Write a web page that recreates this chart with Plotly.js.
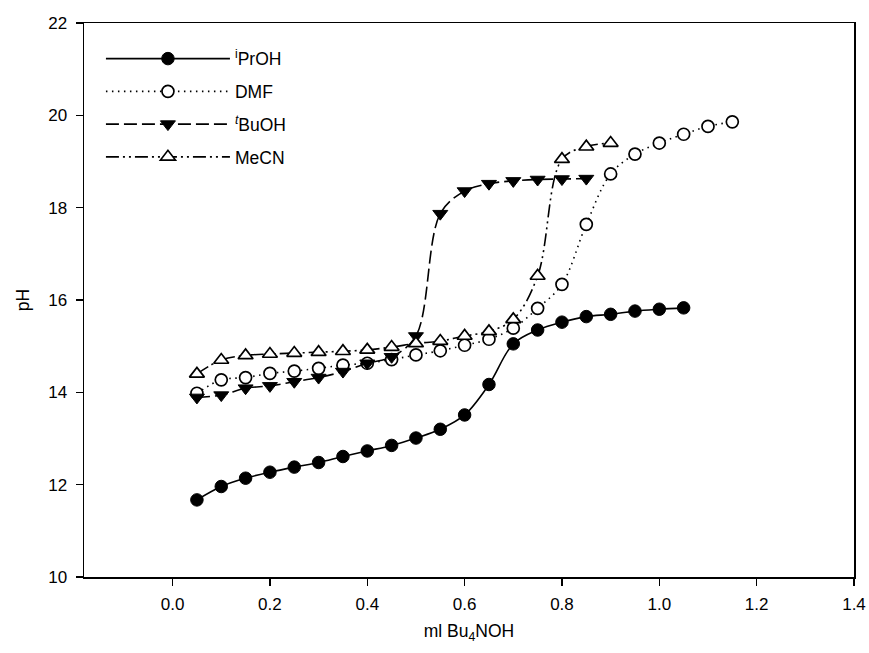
<!DOCTYPE html>
<html>
<head>
<meta charset="utf-8">
<script src="https://cdn.plot.ly/plotly-3.0.1.min.js"></script>
<style>html,body{margin:0;padding:0;background:#fff}#chart{width:869px;height:653px}</style>
</head>
<body>
<div id="chart"></div>
<script>
const xPrOH = [0.05,0.10,0.15,0.20,0.25,0.30,0.35,0.40,0.45,0.50,0.55,0.60,0.65,0.70,0.75,0.80,0.85,0.90,0.95,1.00,1.05];
const yPrOH = [11.67,11.96,12.14,12.27,12.38,12.48,12.61,12.73,12.85,13.01,13.20,13.51,14.17,15.05,15.35,15.52,15.64,15.69,15.76,15.80,15.83];

const xDMF = [0.05,0.10,0.15,0.20,0.25,0.30,0.35,0.40,0.45,0.50,0.55,0.60,0.65,0.70,0.75,0.80,0.85,0.90,0.95,1.00,1.05,1.10,1.15];
const yDMF = [13.98,14.27,14.32,14.41,14.46,14.52,14.59,14.63,14.71,14.81,14.90,15.02,15.15,15.39,15.82,16.34,17.64,18.73,19.16,19.40,19.59,19.76,19.86];

const xBuOH = [0.05,0.10,0.15,0.20,0.25,0.30,0.35,0.40,0.45,0.50,0.55,0.60,0.65,0.70,0.75,0.80,0.85];
const yBuOH = [13.89,13.94,14.09,14.14,14.23,14.32,14.45,14.63,14.77,15.22,17.87,18.36,18.52,18.58,18.61,18.62,18.63];

const xMeCN = [0.05,0.10,0.15,0.20,0.25,0.30,0.35,0.40,0.45,0.50,0.55,0.60,0.65,0.70,0.75,0.80,0.85,0.90];
const yMeCN = [14.40,14.70,14.80,14.83,14.85,14.87,14.89,14.92,14.98,15.06,15.11,15.22,15.32,15.58,16.52,19.05,19.32,19.40];

const names = ['<sup>i</sup>PrOH','DMF','<sup><i>t</i></sup>BuOH','MeCN'];
const xTicks = [0.0,0.2,0.4,0.6,0.8,1.0,1.2,1.4];
const yTicks = [10,12,14,16,18,20,22];

const lw = 1.6;
const traces = [
  {x:xPrOH, y:yPrOH, name:names[0], legendgroup:'a', mode:'lines+markers',
   line:{color:'#000', width:lw, shape:'spline', dash:'solid'},
   marker:{symbol:'circle', size:12.5, color:'#000', line:{color:'#000', width:1}}},
  {x:xDMF, y:yDMF, name:names[1], legendgroup:'b', mode:'lines+markers',
   line:{color:'#000', width:lw, shape:'spline', dash:'1.5px,4.5px'},
   marker:{symbol:'circle', size:12, color:'#fff', line:{color:'#000', width:1.7}}},
  {x:xBuOH, y:yBuOH, name:names[2], legendgroup:'c', mode:'lines+markers',
   line:{color:'#000', width:lw, shape:'spline', dash:'13px,5px'},
   marker:{symbol:'triangle-down', size:13, color:'#000', line:{color:'#000', width:1}}},
  {x:xMeCN, y:yMeCN, name:names[3], legendgroup:'d', mode:'lines+markers',
   line:{color:'#000', width:lw, shape:'spline', dash:'13px,4px,2px,4px,2px,4px'},
   marker:{symbol:'triangle-up', size:13, color:'#fff', line:{color:'#000', width:1.7}}}
];

const font = {family:'"Liberation Sans", Arial, sans-serif', size:17, color:'#000'};
const layout = {
  width:869, height:653,
  margin:{l:83.5, r:14.5, t:22.5, b:76},
  paper_bgcolor:'#fff', plot_bgcolor:'#fff',
  font:font,
  showlegend:true,
  legend:{x:0.022, y:0.968, xanchor:'left', yanchor:'top', bgcolor:'rgba(0,0,0,0)',
          font:{family:font.family, size:17.5, color:'#000'}, itemwidth:124, tracegroupgap:7},
  xaxis:{range:[-0.182,1.4], tickvals:xTicks, ticktext:xTicks.map(v=>v.toFixed(1)),
         ticks:'outside', ticklen:7, tickwidth:1.2, tickcolor:'#000',
         showline:true, linecolor:'#000', linewidth:1.5, mirror:true,
         showgrid:false, zeroline:false, tickfont:{size:17}, ticklabelstandoff:4,
         title:{text:'ml Bu<sub>4</sub>NOH', font:{size:17.5}, standoff:12}},
  yaxis:{range:[10,22], tickvals:yTicks,
         ticks:'outside', ticklen:7, tickwidth:1.2, tickcolor:'#000',
         showline:true, linecolor:'#000', linewidth:1.5, mirror:true,
         showgrid:false, zeroline:false, tickfont:{size:17}, ticklabelstandoff:5,
         title:{text:'pH', font:{size:17.5}, standoff:14}}
};
Plotly.newPlot('chart', traces, layout, {displayModeBar:false, staticPlot:true});
</script>
</body>
</html>
